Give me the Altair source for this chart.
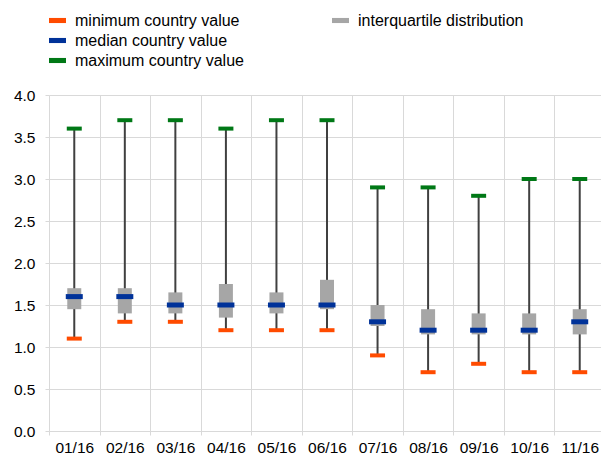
import altair as alt
import pandas as pd

months = ["01/16", "02/16", "03/16", "04/16", "05/16", "06/16",
          "07/16", "08/16", "09/16", "10/16", "11/16"]
min_vals = [1.1, 1.3, 1.3, 1.2, 1.2, 1.2, 0.9, 0.7, 0.8, 0.7, 0.7]
q1_vals = [1.45, 1.4, 1.4, 1.35, 1.4, 1.45, 1.25, 1.15, 1.15, 1.15, 1.15]
median_vals = [1.6, 1.6, 1.5, 1.5, 1.5, 1.5, 1.3, 1.2, 1.2, 1.2, 1.3]
q3_vals = [1.7, 1.7, 1.65, 1.75, 1.65, 1.8, 1.5, 1.45, 1.4, 1.4, 1.45]
max_vals = [3.6, 3.7, 3.7, 3.6, 3.7, 3.7, 2.9, 2.9, 2.8, 3.0, 3.0]
y_ticks = [0.0, 0.5, 1.0, 1.5, 2.0, 2.5, 3.0, 3.5, 4.0]

stat_names = ["minimum country value", "median country value", "maximum country value"]
stat_colors = ["#FF4B00", "#003299", "#007816"]
box_name = "interquartile distribution"
box_color = "#A6A6A6"

FONT = "Liberation Sans"
GRID = "#D9D9D9"
SYMBOL = "M-1,-0.3H1V0.3H-1Z"

wide = pd.DataFrame({"month": months, "lo": min_vals, "q1": q1_vals,
                     "med": median_vals, "q3": q3_vals, "hi": max_vals,
                     "box": box_name})
rows = []
for i, m in enumerate(months):
    rows.append({"month": m, "stat": stat_names[0], "value": min_vals[i]})
    rows.append({"month": m, "stat": stat_names[1], "value": median_vals[i]})
    rows.append({"month": m, "stat": stat_names[2], "value": max_vals[i]})
long = pd.DataFrame(rows)

x = alt.X("month:N", sort=months, title=None,
          scale=alt.Scale(paddingInner=0, paddingOuter=0),
          axis=alt.Axis(labelAngle=0, domain=False, grid=True, gridColor=GRID,
                        tickBand="extent", tickColor=GRID, tickSize=4,
                        labelPadding=5, labelFont=FONT, labelFontSize=15.5,
                        labelColor="#000000"))
y_scale = alt.Scale(domain=[0, 4], nice=False)
y_axis = alt.Axis(values=y_ticks, format=".1f", domain=False, grid=True,
                  gridColor=GRID, tickColor=GRID, tickSize=4, labelPadding=10,
                  labelFont=FONT, labelFontSize=15.5, labelColor="#000000",
                  title=None)


def legend(lx):
    return alt.Legend(orient="none", legendX=lx, legendY=-83,
                      symbolType=SYMBOL, symbolSize=289,
                      symbolStrokeWidth=0, labelOffset=9,
                      labelFont=FONT, labelFontSize=16,
                      labelColor="#000000", padding=0,
                      rowPadding=3, labelLimit=400)


base = alt.Chart(wide)

whisker = base.mark_rule(color="#404040", strokeWidth=2).encode(
    x=x,
    y=alt.Y("lo:Q", scale=y_scale, axis=y_axis),
    y2="hi:Q",
)

boxes = base.mark_bar(size=14).encode(
    x=x,
    y=alt.Y("q1:Q", scale=y_scale, axis=y_axis),
    y2="q3:Q",
    color=alt.Color("box:N", title=None,
                    scale=alt.Scale(domain=[box_name], range=[box_color]),
                    legend=legend(283)),
)

tick_color = alt.Color("stat:N", title=None,
                       scale=alt.Scale(domain=stat_names, range=stat_colors),
                       legend=legend(0))

ticks_minmax = alt.Chart(long).mark_tick(size=15, thickness=4, opacity=1).transform_filter(
    alt.FieldOneOfPredicate(field="stat", oneOf=[stat_names[0], stat_names[2]])
).encode(
    x=x,
    y=alt.Y("value:Q", scale=y_scale, axis=y_axis),
    color=tick_color,
)

ticks_median = alt.Chart(long).mark_tick(size=17, thickness=5, opacity=1).transform_filter(
    alt.FieldEqualPredicate(field="stat", equal=stat_names[1])
).encode(
    x=x,
    y=alt.Y("value:Q", scale=y_scale, axis=y_axis),
    color=tick_color,
)

ticks = alt.layer(ticks_minmax, ticks_median)

chart = alt.layer(whisker, boxes, ticks).resolve_scale(
    color="independent"
).properties(
    width=556,
    height=336,
    autosize="none",
    padding={"left": 41, "top": 87, "right": -4, "bottom": 26},
).configure_view(stroke=None)

chart.save("out.html", embed_options={"renderer": "svg", "actions": False})
